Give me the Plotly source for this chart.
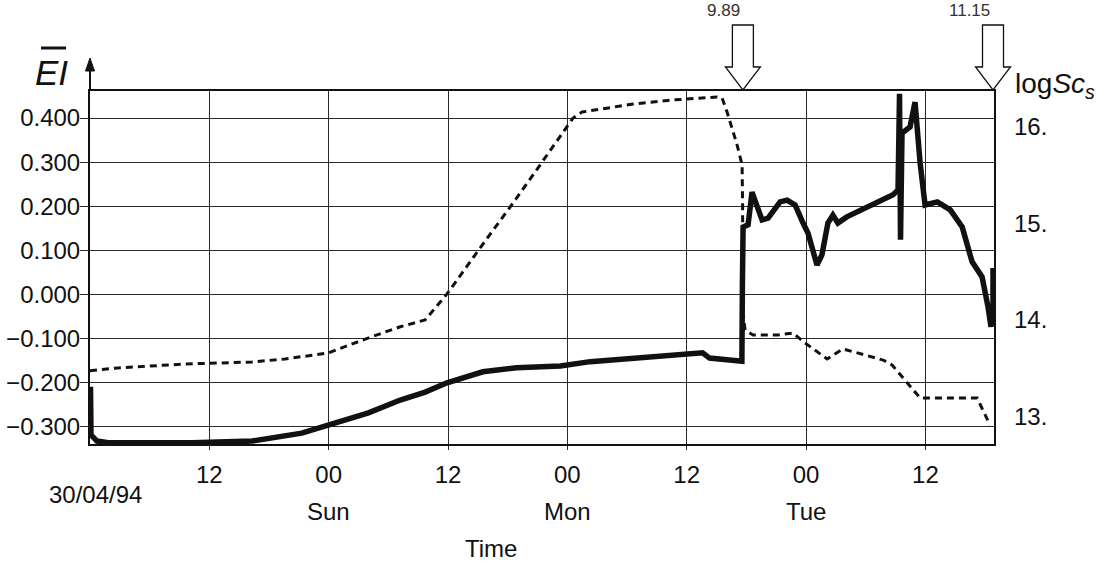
import pandas as pd
import plotly.graph_objects as go

START = pd.Timestamp("1994-04-30 00:00")
SPAN_H = 90.9  # visible time span in hours

# Mean electric index (left axis), hours after 30/04/94 00:00
ei_hours = [0.05, 0.1, 0.7, 2.0, 10.3, 16.3, 21.3, 23.9, 28.0, 31.2, 33.7, 35.9,
            39.5, 42.9, 47.3, 50.3, 54.3, 58.3, 61.6, 62.3, 65.1, 65.55, 65.6,
            65.67, 66.17, 66.57, 67.0, 67.58, 68.18, 69.39, 70.09, 70.9, 71.7,
            72.2, 73.1, 73.6, 74.2, 74.7, 75.2, 76.1, 80.75, 81.25, 81.4, 81.5,
            81.65, 82.46, 82.96, 83.47, 83.97, 85.2, 86.5, 87.7, 88.7, 89.7,
            90.3, 90.6, 90.8, 90.8]
ei_values = [-0.209, -0.318, -0.332, -0.336, -0.336, -0.332, -0.314, -0.296,
             -0.268, -0.239, -0.221, -0.200, -0.175, -0.166, -0.162, -0.152,
             -0.144, -0.137, -0.132, -0.144, -0.149, -0.151, 0.020, 0.153,
             0.158, 0.232, 0.205, 0.169, 0.173, 0.210, 0.214, 0.203, 0.162,
             0.139, 0.067, 0.090, 0.162, 0.180, 0.162, 0.176, 0.226, 0.237,
             0.455, 0.124, 0.366, 0.380, 0.436, 0.298, 0.203, 0.210, 0.192,
             0.153, 0.074, 0.040, -0.028, -0.073, -0.035, 0.060]

# log Sc_s (right axis)
sc_hours = [0.0, 2.82, 9.55, 16.29, 19.61, 22.93, 23.93, 27.96, 31.2, 33.69,
            35.9, 39.22, 42.54, 45.25, 48.57, 49.48, 54.6, 58.6, 61.3, 63.05,
            63.56, 64.06, 65.07, 65.57, 65.62, 65.67, 65.87, 66.67, 69.19,
            70.7, 71.9, 74.12, 75.72, 79.75, 80.65, 83.47, 89.2, 90.5]
sc_values = [13.475, 13.503, 13.544, 13.565, 13.596, 13.648, 13.658, 13.813,
             13.93, 14.0, 14.27, 14.746, 15.212, 15.606, 16.093, 16.155,
             16.238, 16.28, 16.30, 16.311, 16.30, 16.155, 15.813, 15.606,
             15.19, 14.07, 13.896, 13.845, 13.845, 13.865, 13.762, 13.596,
             13.70, 13.585, 13.534, 13.192, 13.192, 12.912]

grid_hours = [12, 24, 36, 48, 60, 72, 84]
grid_labels = ["12", "00", "12", "00", "12", "00", "12"]
day_hours = [24, 48, 72]
day_labels = ["Sun", "Mon", "Tue"]
ei_ticks = [-0.3, -0.2, -0.1, 0.0, 0.1, 0.2, 0.3, 0.4]
sc_ticks = [13, 14, 15, 16]
sc_labels = ["13.", "14.", "15.", "16."]
event_hours = [65.65, 90.8]
event_labels = ["9.89", "11.15"]


def at(hours):
    return [START + pd.Timedelta(hours=h) for h in hours]


FONT = "Liberation Sans, Arial, sans-serif"
INK = "#111111"
GRID = "#2a2a2a"
TICK_SIZE = 24

fig = go.Figure()
fig.add_trace(go.Scatter(
    x=at(sc_hours), y=sc_values, yaxis="y2", mode="lines",
    line=dict(color=INK, width=3, dash="7px,5px"), name="logSc_s",
))
fig.add_trace(go.Scatter(
    x=at(ei_hours), y=ei_values, mode="lines",
    line=dict(color=INK, width=5.5), name="EI",
))

fig.update_layout(
    width=1106, height=565,
    margin=dict(l=90, r=112, t=91, b=121),
    paper_bgcolor="white", plot_bgcolor="white",
    showlegend=False,
    font=dict(family=FONT, size=TICK_SIZE, color=INK),
    xaxis=dict(
        range=[START, START + pd.Timedelta(hours=SPAN_H)],
        tickvals=at(grid_hours), ticktext=grid_labels,
        showgrid=True, gridcolor=GRID, gridwidth=1.3,
        showline=True, linecolor=INK, linewidth=1.5, mirror=True,
        ticks="outside", ticklen=4, tickcolor=GRID, ticklabelstandoff=4,
        tickfont=dict(family=FONT, size=TICK_SIZE),
        zeroline=False, automargin=False,
    ),
    yaxis=dict(
        range=[-0.3386, 0.4612],
        tickvals=ei_ticks, tickformat=".3f",
        showgrid=True, gridcolor=GRID, gridwidth=1.3,
        showline=True, linecolor=INK, linewidth=2, mirror=True,
        ticks="outside", ticklen=8, tickcolor=GRID, ticklabelstandoff=-5,
        tickfont=dict(family=FONT, size=TICK_SIZE),
        zeroline=False, automargin=False,
    ),
    yaxis2=dict(
        range=[12.715, 16.373], overlaying="y", side="right",
        tickvals=sc_ticks, ticktext=sc_labels,
        showgrid=False, zeroline=False, showline=False,
        ticks="", ticklabelstandoff=19,
        tickfont=dict(family=FONT, size=TICK_SIZE),
        automargin=False,
    ),
)

shapes = []
# Hollow markers pointing at the event times (paper x so they are not clipped)
for h in event_hours:
    shapes.append(dict(
        type="path", xref="paper", yref="paper",
        xsizemode="pixel", ysizemode="pixel",
        xanchor=h / SPAN_H, yanchor=1,
        path="M -10.5,66 L 10.5,66 L 10.5,24 L 17.5,24 L 0,1 L -17.5,24 L -10.5,24 Z",
        fillcolor="white", line=dict(color=INK, width=1.3), layer="above",
    ))
# Arrow on top of the left axis
shapes.append(dict(
    type="line", xref="paper", yref="paper",
    xsizemode="pixel", ysizemode="pixel", xanchor=0, yanchor=1,
    x0=0, x1=0, y0=0, y1=21, line=dict(color=INK, width=2),
))
shapes.append(dict(
    type="path", xref="paper", yref="paper",
    xsizemode="pixel", ysizemode="pixel", xanchor=0, yanchor=1,
    path="M -4.5,20 L 4.5,20 L 0,33 Z", fillcolor=INK, line=dict(color=INK, width=1),
))
# Bar over the EI symbol
shapes.append(dict(
    type="line", xref="paper", yref="paper",
    xsizemode="pixel", ysizemode="pixel", xanchor=0, yanchor=1,
    x0=-49, x1=-24, y0=43, y1=43, line=dict(color=INK, width=3),
))
fig.update_layout(shapes=shapes)

annotations = []
for h, lab in zip(event_hours, event_labels):
    annotations.append(dict(
        x=h / SPAN_H, xref="paper", y=1, yref="paper",
        yanchor="middle", yshift=81, xshift=-1, showarrow=False, text=lab,
        font=dict(family=FONT, size=17, color="#333333"),
    ))
for h, lab in zip(day_hours, day_labels):
    annotations.append(dict(
        x=START + pd.Timedelta(hours=h), xref="x", y=0, yref="paper",
        yanchor="middle", yshift=-67, showarrow=False, text=lab,
        font=dict(family=FONT, size=TICK_SIZE),
    ))
annotations += [
    dict(x=0, xref="paper", y=1, yref="paper", xshift=-39, yshift=19,
         xanchor="center", yanchor="middle", showarrow=False,
         text="<i>EI</i>", font=dict(family=FONT, size=35)),
    dict(x=1, xref="paper", y=1, yref="paper", xshift=19, yshift=6,
         xanchor="left", yanchor="middle", showarrow=False,
         text="log<i>Sc</i><sub><i>s</i></sub>", font=dict(family=FONT, size=28)),
    dict(x=0, xref="paper", y=0, yref="paper", xshift=5, yshift=-50,
         xanchor="center", yanchor="middle", showarrow=False,
         text="30/04/94", font=dict(family=FONT, size=TICK_SIZE)),
    dict(x=(491 - 90) / 904, xref="paper", y=0, yref="paper", yshift=-104,
         xanchor="center", yanchor="middle", showarrow=False,
         text="Time", font=dict(family=FONT, size=TICK_SIZE)),
]
fig.update_layout(annotations=annotations)

fig.write_html("out.html")
